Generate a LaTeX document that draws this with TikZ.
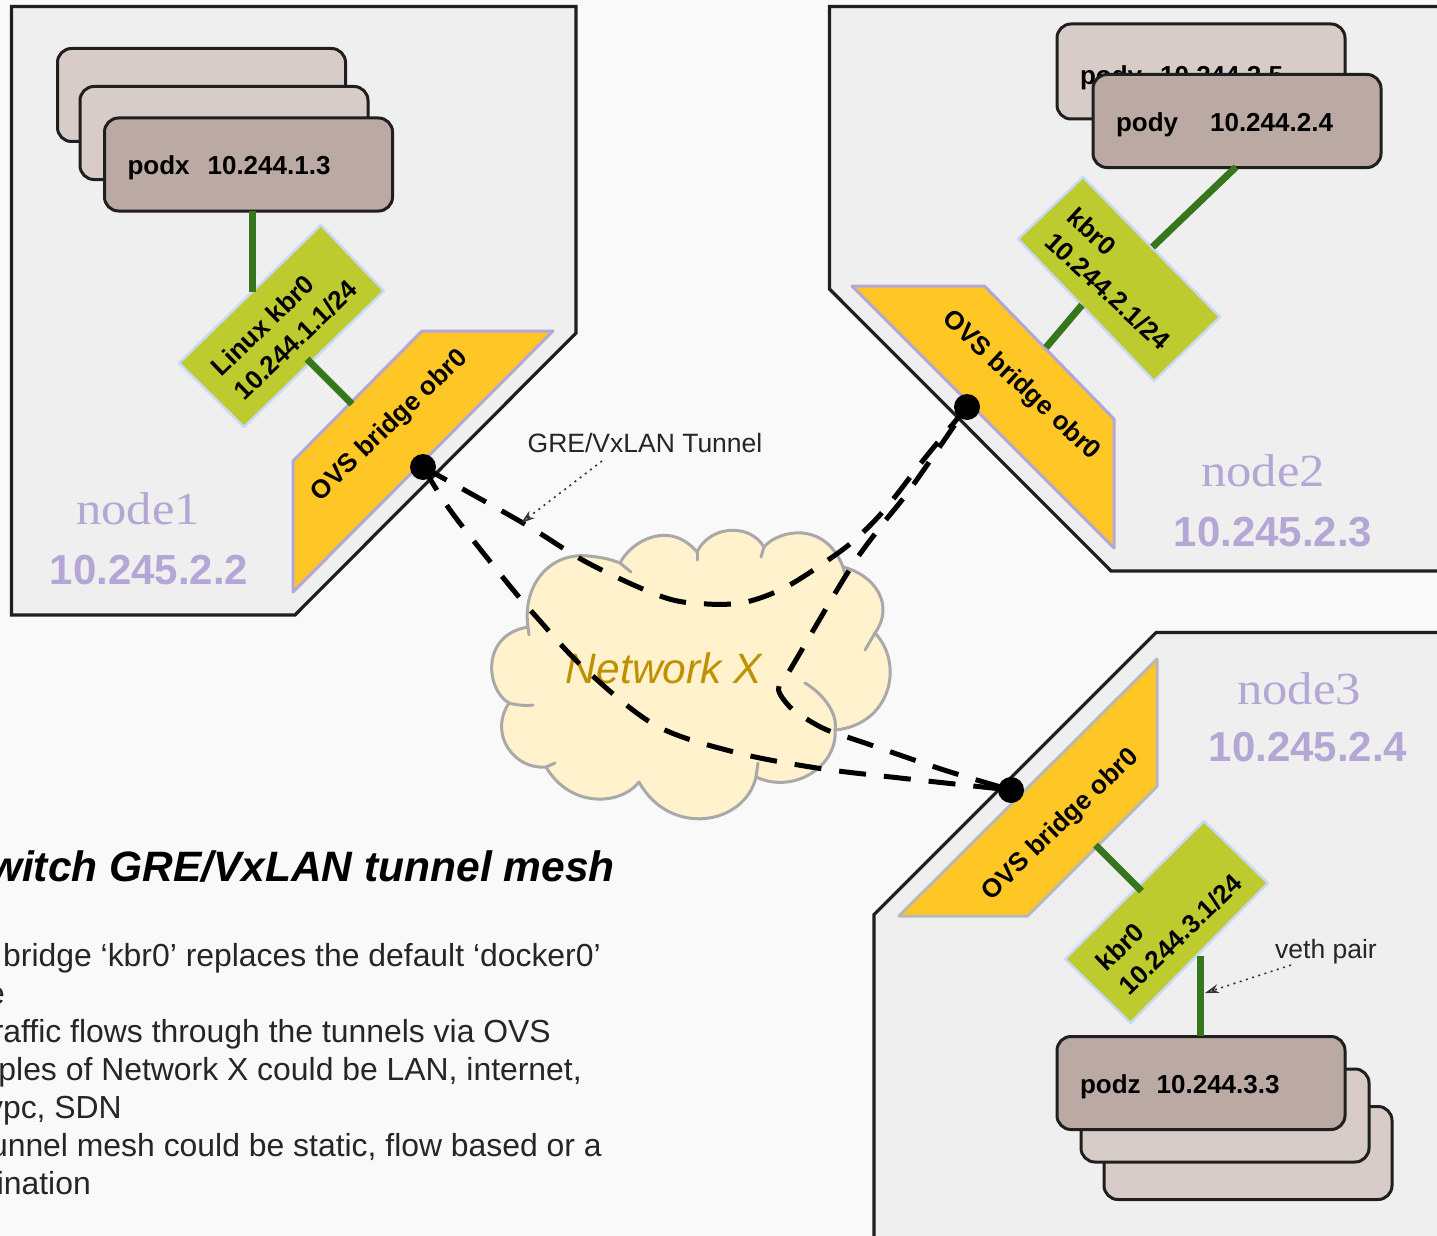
\documentclass[tikz,border=0pt]{standalone}
\usepackage{fontspec}
\setmainfont{Liberation Sans}
\newfontfamily\labelserif{Liberation Serif}
\usetikzlibrary{arrows.meta}
\definecolor{pagebg}{HTML}{F9F9F9}
\definecolor{nodebg}{HTML}{EFEFEF}
\definecolor{podback}{HTML}{D7CCC8}
\definecolor{podfront}{HTML}{BBAAA4}
\definecolor{kbrfill}{HTML}{BDCB2F}
\definecolor{kbredge}{HTML}{C9DAF8}
\definecolor{ovsfill}{HTML}{FFC726}
\definecolor{ovsedge}{HTML}{B4A7D6}
\definecolor{linkgreen}{HTML}{38761D}
\definecolor{cloudfill}{HTML}{FFF2CC}
\definecolor{cloudedge}{HTML}{A9A9A9}
\definecolor{cloudtext}{HTML}{BF9000}
\definecolor{inktext}{HTML}{262626}
\newcommand{\podtext}[3]{\rule{0pt}{26pt}#1\hspace{#2}#3}
\newcommand{\wideserif}[1]{\scalebox{1.1}[1]{#1}}
\tikzset{
  hostbox/.style={draw=black!88,line width=3.2pt,fill=nodebg,line join=miter},
  podbase/.style={draw=black!88,line width=3pt,rounded corners=14pt,minimum width=288pt,minimum height=93pt,
    inner xsep=23pt,inner ysep=0pt,text width=242pt,align=left,text=black,
    font=\fontsize{26}{30}\bfseries},
  podb/.style={podbase,fill=podback},
  podf/.style={podbase,fill=podfront},
  kbrshape/.style={fill=kbrfill,draw=kbredge,line width=2.5pt,line join=round},
  ovsshape/.style={fill=ovsfill,draw=ovsedge,line width=3pt,line join=round},
  shapetext/.style={inner sep=0pt,align=left,text=black,font=\fontsize{26}{33}\bfseries},
  veth/.style={draw=linkgreen,line width=7pt},
  tunnel/.style={draw=black,line width=5pt,dash pattern=on 27pt off 18pt},
  portdot/.style={circle,fill=black,minimum size=26pt,inner sep=0pt},
  hostname/.style={inner sep=0pt,text=ovsedge,font=\fontsize{46}{50}\labelserif},
  hostip/.style={inner sep=0pt,text=ovsedge,font=\fontsize{42}{46}\bfseries},
  callout/.style={inner sep=0pt,text=inktext,font=\fontsize{26.5}{30}\selectfont},
  pointer/.style={draw=black!80,line width=1.6pt,dash pattern=on 2pt off 4.5pt,-{Stealth[length=14pt,width=9pt,open]}},
  bodyline/.style={anchor=base east,inner sep=0pt,text=inktext,font=\fontsize{31.9}{36}\selectfont},
  cloudline/.style={draw=cloudedge,line width=3pt,line cap=round,line join=round},
}
\begin{document}
\begin{tikzpicture}[x=1pt,y=-1pt]
\path[use as bounding box,fill=pagebg] (0,0) rectangle (1437,1236);

% hosts
\draw[hostbox] (11.5,6.5) -- (576,6.5) -- (576,333) -- (295,615) -- (11.5,615) -- cycle;
\draw[hostbox] (829.5,6.5) -- (1445,6.5) -- (1445,571) -- (1111,571) -- (829.5,289) -- cycle;
\draw[hostbox] (1156,632.5) -- (1445,632.5) -- (1445,1245) -- (874,1245) -- (874,914.5) -- cycle;

% node1 pods
\node[podb] (podx3) at (201.5,95) {\phantom{x}};
\node[podb] (podx2) at (224,133) {\phantom{x}};
\node[podf] (podx1) at (248.5,164.5) {\podtext{podx}{18pt}{10.244.1.3}};
% node2 pods
\node[podb,minimum height=95pt] (pody2) at (1201,71.5) {\rule{0pt}{32pt}pody\hspace{18pt}10.244.2.5};
\node[podf] (pody1) at (1237,121) {\podtext{pody}{32pt}{10.244.2.4}};
% node3 pods
\node[podb] (podz3) at (1248,1153) {\phantom{x}};
\node[podb] (podz2) at (1225,1115.5) {\phantom{x}};
\node[podf] (podz1) at (1201,1083) {\podtext{podz}{16pt}{10.244.3.3}};

% bridges, node1
\draw[kbrshape] (321,225) -- (384,291) -- (244,427) -- (179,363) -- cycle;
\draw[ovsshape] (422,331) -- (553,331) -- (293,592) -- (293,461) -- cycle;
\node[shapetext,rotate=44] (kbr1) at (284,328) {Linux kbr0\\10.244.1.1/24};
\node[shapetext,rotate=44] (ovs1) at (390,426) {OVS bridge obr0};
% bridges, node2
\draw[kbrshape] (1083,177) -- (1220,317) -- (1154,381) -- (1018,239) -- cycle;
\draw[ovsshape] (852,286) -- (984.5,286) -- (1114,419) -- (1114,548) -- cycle;
\node[shapetext,rotate=-42.5] (kbr2) at (1119,279) {kbr0\\10.244.2.1/24};
\node[shapetext,rotate=-43] (ovs2) at (1021,386) {OVS bridge obr0};
% bridges, node3
\draw[kbrshape] (1204,821) -- (1268,883) -- (1130.5,1023) -- (1065,959) -- cycle;
\draw[ovsshape,draw=black!28] (1157,659) -- (1157,786.5) -- (1027.5,916) -- (899,916) -- cycle;
\node[shapetext,rotate=44] (kbr3) at (1169,922.5) {kbr0\\10.244.3.1/24};
\node[shapetext,rotate=44] (ovs3) at (1061,825) {OVS bridge obr0};

% veth links
\coordinate (l1a) at (252,211);   \coordinate (l1b) at (252,292);
\coordinate (l2a) at (307,359);   \coordinate (l2b) at (352,404);
\coordinate (l3a) at (1236,167);  \coordinate (l3b) at (1152.5,247);
\coordinate (l4a) at (1082,305);  \coordinate (l4b) at (1046,347.5);
\coordinate (l5a) at (1095.5,845);\coordinate (l5b) at (1141.5,891);
\coordinate (l6a) at (1200,955.5);\coordinate (l6b) at (1200,1036);
\draw[veth] (l1a) -- (l1b);
\draw[veth] (l2a) -- (l2b);
\draw[veth] (l3a) -- (l3b);
\draw[veth] (l4a) -- (l4b);
\draw[veth] (l5a) -- (l5b);
\draw[veth] (l6a) -- (l6b);

% host labels
\node[hostname] (n1) at (138,509) {\wideserif{node1}};
\node[hostip] (ip1) at (149,570) {10.245.2.2};
\node[hostname] (n2) at (1263,471) {\wideserif{node2}};
\node[hostip] (ip2) at (1273,532) {10.245.2.3};
\node[hostname] (n3) at (1299,689) {\wideserif{node3}};
\node[hostip] (ip3) at (1308,747) {10.245.2.4};

% cloud
\path[fill=cloudfill,cloudline]
  (528,627) .. controls (522,585) and (550,552) .. (588,556)
  .. controls (600,557) and (610,559) .. (620,563)
  .. controls (632,540) and (670,520) .. (697,552)
  .. controls (710,525) and (750,523) .. (764,547)
  .. controls (778,530) and (825,520) .. (843,567)
  .. controls (875,575) and (895,605) .. (875,633)
  .. controls (905,665) and (890,725) .. (835,730)
  .. controls (838,765) and (795,795) .. (756,777)
  .. controls (745,825) and (670,838) .. (639,782)
  .. controls (620,806) and (570,808) .. (546,767)
  .. controls (515,770) and (488,735) .. (509,703)
  .. controls (486,690) and (480,635) .. (528,627) -- cycle;
\draw[cloudline] (620,563) -- (631,572);
\draw[cloudline] (697,552) -- (697,560);
\draw[cloudline] (764,547) -- (761,557);
\draw[cloudline] (843,567) -- (845,574);
\draw[cloudline] (875,633) -- (865,650);
\draw[cloudline] (805,683) .. controls (825,695) and (838,715) .. (835,730);
\draw[cloudline] (756,777) -- (758,763);
\draw[cloudline] (546,767) -- (555,763);
\draw[cloudline] (509,703) .. controls (516,705) and (525,706) .. (533,705);
\draw[cloudline] (528,627) -- (529,635);
\node[inner sep=0pt,text=cloudtext,font=\fontsize{42.5}{46}\itshape] (netx) at (664,668) {Network X};

% tunnel ports
\node[portdot] (d1) at (423,467) {};
\node[portdot] (d2) at (967,407) {};
\node[portdot] (d3) at (1011,790) {};

% tunnels
\draw[tunnel] plot[smooth,tension=0.55] coordinates {(d1.center) (523,523) (588,563) (663,597) (707,604) (746,602) (786,587) (831,558) (858,537) (886,508) (925,458) (d2.center)};
\draw[tunnel] plot[smooth,tension=0.55] coordinates {(d1.center) (451.5,512) (505,580) (536.5,617) (584,668) (655,725) (734,752) (817,768) (900,778) (d3.center)};
\draw[tunnel,dash phase=23pt] plot[smooth,tension=0.5] coordinates {(d2.center) (911,488) (885,521) (860,554) (837,590) (790,670) (778.5,689) (789.6,706.7) (805,718) (827,730) (865,743) (944,770) (d3.center)};

% callouts
\node[callout] (gre) at (645,443) {GRE/VxLAN Tunnel};
\coordinate (grep) at (602,461);
\coordinate (gret) at (521,523);
\draw[pointer] (grep) -- (gret);
\node[callout] (vp) at (1326,952) {veth pair};
\coordinate (vpp) at (1291,965);
\coordinate (vpt) at (1205,993);
\draw[pointer] (vpp) -- (vpt);

% text block
\node[anchor=base east,inner sep=0pt,text=black,font=\fontsize{42.5}{46}\bfseries\itshape] (title) at (615,881) {witch GRE/VxLAN tunnel mesh};
\node[bodyline] (t1) at (601,966) {bridge ‘kbr0’ replaces the default ‘docker0’};
\node[bodyline] (t2) at (5,1004) {e};
\node[bodyline] (t3) at (551,1042) {raffic flows through the tunnels via OVS};
\node[bodyline] (t4) at (582,1080) {ples of Network X could be LAN, internet,};
\node[bodyline] (t5) at (122,1118) {vpc, SDN};
\node[bodyline] (t6) at (602,1156) {unnel mesh could be static, flow based or a};
\node[bodyline] (t7) at (91,1194) {ination};
\end{tikzpicture}
\end{document}
